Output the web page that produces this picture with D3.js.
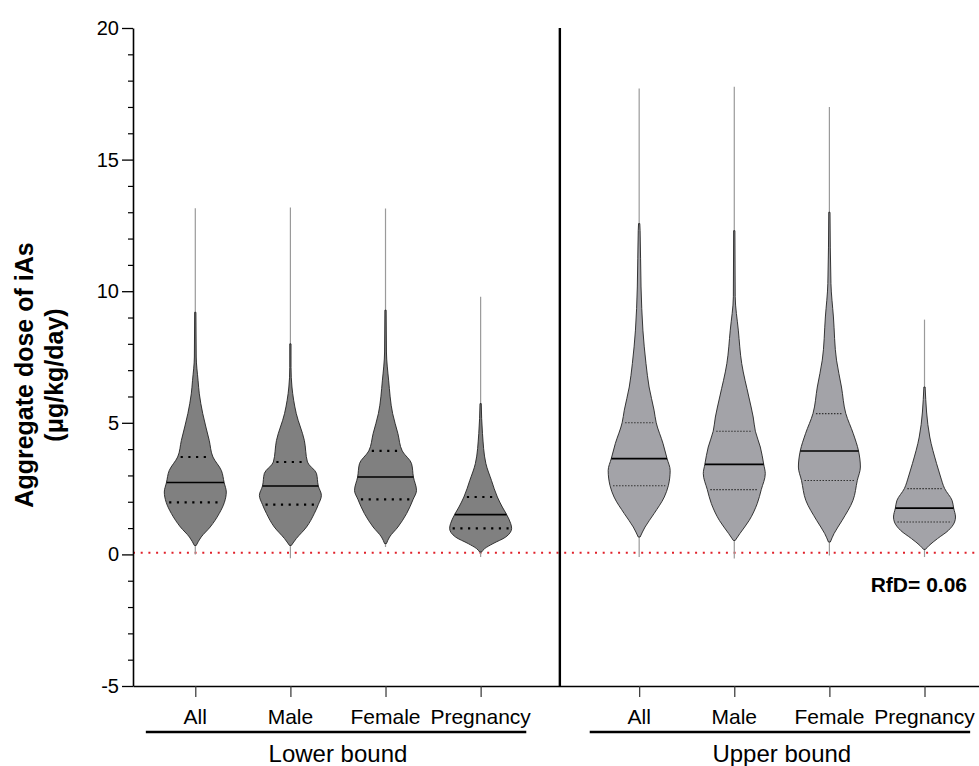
<!DOCTYPE html>
<html>
<head>
<meta charset="utf-8">
<script src="https://cdn.jsdelivr.net/npm/d3@7"></script>
<style>
  body { margin: 0; background: #fff; }
  svg text { font-family: "Liberation Sans", Arial, sans-serif; }
</style>
</head>
<body>
<div id="chart"></div>
<script>
// Group and category names
var groups = ["Lower bound", "Upper bound"];
var categories = ["All", "Male", "Female", "Pregnancy"];
var yTicks = [-5, 0, 5, 10, 15, 20];
var rfd = 0.06;

// Violin outlines: [dose, relative density]
var lowerAll = [[9.2,0.02],[7.5,0.03],[6.6,0.09],[6.1,0.13],[5.35,0.24],[4.33,0.45],[3.7,0.57],[3.19,0.84],[2.73,0.93],[2.37,1.0],[1.98,0.94],[1.55,0.77],[1.04,0.48],[0.66,0.19],[0.34,0.03]];
var lowerMale = [[8.0,0.02],[7.1,0.02],[6.36,0.05],[5.35,0.19],[4.33,0.45],[3.51,0.55],[3.08,0.84],[2.6,0.9],[2.24,1.0],[1.89,0.9],[1.55,0.77],[1.04,0.52],[0.6,0.19],[0.34,0.03]];
var lowerFemale = [[9.28,0.02],[7.69,0.03],[6.62,0.1],[5.35,0.23],[4.59,0.4],[3.93,0.54],[3.45,0.84],[2.94,0.9],[2.43,1.0],[2.09,0.89],[1.55,0.68],[1.04,0.4],[0.66,0.13],[0.41,0.03]];
var lowerPregnancy = [[5.73,0.02],[4.59,0.06],[3.45,0.17],[2.81,0.35],[2.18,0.54],[1.8,0.7],[1.51,0.84],[1.17,0.97],[0.99,1.0],[0.66,0.81],[0.41,0.4],[0.22,0.13],[0.09,0.03]];
var upperAll = [[12.57,0.02],[12.3,0.03],[10.16,0.06],[8.52,0.12],[7.25,0.22],[6.36,0.32],[5.48,0.48],[5.0,0.55],[4.21,0.77],[3.64,0.9],[3.19,1.0],[2.61,0.94],[2.18,0.81],[1.55,0.48],[1.04,0.19],[0.66,0.03]];
var upperMale = [[12.3,0.02],[9.79,0.03],[8.52,0.13],[7.25,0.24],[5.98,0.47],[5.22,0.61],[4.68,0.68],[4.08,0.84],[3.42,0.95],[3.07,1.0],[2.46,0.87],[1.93,0.74],[1.29,0.48],[0.79,0.18],[0.53,0.03]];
var upperFemale = [[13.0,0.02],[10.29,0.05],[9.02,0.13],[7.38,0.23],[6.36,0.39],[5.35,0.53],[4.59,0.77],[3.93,0.94],[3.32,1.0],[2.81,0.9],[2.05,0.76],[1.29,0.41],[0.79,0.15],[0.47,0.03]];
var upperPregnancy = [[6.36,0.02],[4.46,0.17],[3.45,0.39],[2.94,0.52],[2.5,0.65],[2.05,0.89],[1.76,0.94],[1.42,1.0],[1.23,0.97],[0.91,0.77],[0.6,0.42],[0.34,0.15],[0.19,0.03]];

// Summary values, order: lower All..Pregnancy, upper All..Pregnancy
var maxDose = [13.15, 13.18, 13.14, 9.79, 17.7, 17.77, 17.0, 8.92];
var minDose = [0.0, -0.15, 0.28, -0.1, -0.1, -0.16, -0.04, -0.1];
var medians = [2.73, 2.60, 2.94, 1.51, 3.64, 3.42, 3.93, 1.76];
var q1 = [1.98, 1.89, 2.09, 0.99, 2.61, 2.46, 2.81, 1.23];
var q3 = [3.70, 3.51, 3.93, 2.18, 5.0, 4.68, 5.35, 2.5];

var profiles = [lowerAll, lowerMale, lowerFemale, lowerPregnancy,
                upperAll, upperMale, upperFemale, upperPregnancy];

var width = 979, height = 766;
var groupOffset = 4.667; // index where the second group starts

var svg = d3.select("#chart").append("svg")
    .attr("width", width)
    .attr("height", height);

// Scales
var x = d3.scaleLinear().domain([-0.655, 8.24]).range([133, 979]);
var y = d3.scaleLinear().domain([-5, 20]).range([686, 28]);
var w = d3.scaleLinear().domain([0, 1]).range([0, 31]);

var fills = ["#808080", "#a3a3a8"];

// Build violin list
var violins = profiles.map(function(p, k) {
    var g = Math.floor(k / 4);
    return {
        group: g,
        pos: g * groupOffset + (k % 4),
        profile: p,
        max: maxDose[k], min: minDose[k],
        median: medians[k], q1: q1[k], q3: q3[k]
    };
});

// RfD reference line
svg.append("line")
    .attr("x1", x.range()[0]).attr("x2", x.range()[1])
    .attr("y1", y(rfd)).attr("y2", y(rfd))
    .attr("stroke", "#e0202a")
    .attr("stroke-width", 2)
    .attr("stroke-dasharray", "2,5.7");

// Violins
var area = d3.area()
    .curve(d3.curveMonotoneY)
    .y(function(d) { return y(d[0]); });

var vg = svg.selectAll(".violin")
    .data(violins)
    .enter().append("g")
    .attr("class", "violin");

// tails (thin lines to min and max)
vg.append("line")
    .attr("x1", function(d) { return x(d.pos); })
    .attr("x2", function(d) { return x(d.pos); })
    .attr("y1", function(d) { return y(d.max); })
    .attr("y2", function(d) { return y(d.min); })
    .attr("stroke", "#9a9a9a")
    .attr("stroke-width", 1.2);

vg.append("path")
    .attr("d", function(d) {
        var cx = x(d.pos);
        return area
            .x0(function(p) { return cx - w(p[1]); })
            .x1(function(p) { return cx + w(p[1]); })(d.profile);
    })
    .attr("fill", function(d) { return fills[d.group]; })
    .attr("stroke", "#222")
    .attr("stroke-width", 0.9);

function halfWidth(d, v) {
    var dens = d3.scaleLinear()
        .domain(d.profile.map(function(p) { return p[0]; }))
        .range(d.profile.map(function(p) { return p[1]; }))
        .clamp(true);
    return w(dens(v));
}

// median
vg.append("line")
    .attr("x1", function(d) { return x(d.pos) - halfWidth(d, d.median); })
    .attr("x2", function(d) { return x(d.pos) + halfWidth(d, d.median); })
    .attr("y1", function(d) { return y(d.median); })
    .attr("y2", function(d) { return y(d.median); })
    .attr("stroke", "#000")
    .attr("stroke-width", 1.6);

// quartiles
["q1", "q3"].forEach(function(key) {
    vg.append("line")
        .attr("x1", function(d) { return x(d.pos) - halfWidth(d, d[key]) + 3; })
        .attr("x2", function(d) { return x(d.pos) + halfWidth(d, d[key]) - 3; })
        .attr("y1", function(d) { return y(d[key]); })
        .attr("y2", function(d) { return y(d[key]); })
        .attr("stroke", function(d) { return d.group === 0 ? "#000" : "#333"; })
        .attr("stroke-width", function(d) { return d.group === 0 ? 2.2 : 1.1; })
        .attr("stroke-dasharray", function(d) { return d.group === 0 ? "2.2,5.5" : "1.5,1.5"; });
});

// Separator between groups
svg.append("line")
    .attr("x1", x(3.833)).attr("x2", x(3.833))
    .attr("y1", y(20)).attr("y2", y(-5))
    .attr("stroke", "#000")
    .attr("stroke-width", 2.4);

// Y axis
var yAxis = d3.axisLeft(y).tickValues(yTicks).tickSize(11).tickPadding(3).tickSizeOuter(0)
    .tickFormat(function(d) { return String(d); });
var yG = svg.append("g")
    .attr("transform", "translate(" + x.range()[0] + ",0)")
    .call(yAxis);
yG.select(".domain").attr("stroke-width", 1.6);
yG.selectAll(".tick line").attr("stroke-width", 1.3);
yG.selectAll("text").attr("font-size", 20).attr("fill", "#000")
    .attr("font-family", "Liberation Sans, Arial, sans-serif");

var minorTicks = d3.range(-5, 21).filter(function(v) { return v % 5 !== 0; });
svg.append("g")
    .attr("transform", "translate(" + x.range()[0] + ",0)")
    .call(d3.axisLeft(y).tickValues(minorTicks).tickSize(5).tickFormat(""))
    .call(function(g) { g.select(".domain").remove(); })
    .selectAll("line").attr("stroke-width", 1.2);

// X axis
var positions = violins.map(function(d) { return d.pos; });
var xG = svg.append("g")
    .attr("transform", "translate(0," + y(-5) + ")")
    .call(d3.axisBottom(x).tickValues(positions).tickSize(11).tickSizeOuter(0).tickFormat(""));
xG.select(".domain").attr("stroke-width", 1.6);
xG.selectAll(".tick line").attr("stroke-width", 1.2).attr("stroke", "#333");

// Category labels
svg.selectAll(".cat")
    .data(violins)
    .enter().append("text")
    .attr("class", "cat")
    .attr("x", function(d) { return x(d.pos); })
    .attr("y", 724)
    .attr("text-anchor", "middle")
    .attr("font-size", 21)
    .text(function(d, i) { return categories[i % 4]; });

// Group underlines and labels
groups.forEach(function(name, g) {
    var start = g * groupOffset;
    svg.append("line")
        .attr("x1", x(start - 0.52)).attr("x2", x(start + 3.48))
        .attr("y1", 732).attr("y2", 732)
        .attr("stroke", "#000")
        .attr("stroke-width", 2.6);
    svg.append("text")
        .attr("x", x(start + 1.5))
        .attr("y", 762)
        .attr("text-anchor", "middle")
        .attr("font-size", 24)
        .text(name);
});

// RfD label
svg.append("text")
    .attr("x", 967)
    .attr("y", 592)
    .attr("text-anchor", "end")
    .attr("font-size", 21)
    .attr("font-weight", "bold")
    .text("RfD= " + rfd);

// Y axis title
var yTitle = svg.append("text")
    .attr("transform", "translate(0,375) rotate(-90)")
    .attr("text-anchor", "middle")
    .attr("font-size", 25)
    .attr("font-weight", "bold");
yTitle.append("tspan").attr("x", 0).attr("y", 33).text("Aggregate dose of iAs");
yTitle.append("tspan").attr("x", 0).attr("y", 63).text("(μg/kg/day)");
</script>
</body>
</html>
